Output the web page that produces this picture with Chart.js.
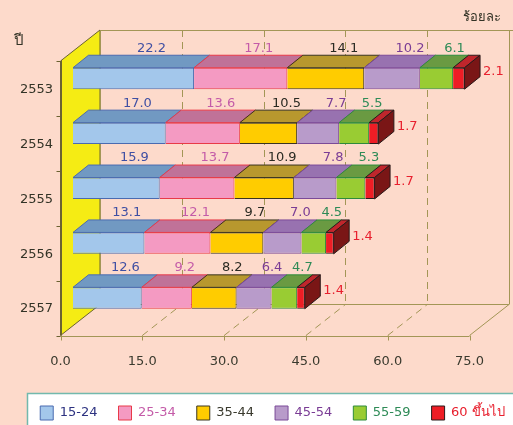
<!DOCTYPE html>
<html><head><meta charset="utf-8">
<script src="https://cdn.jsdelivr.net/npm/chart.js@4/dist/chart.umd.min.js"></script>
<style>html,body{margin:0;padding:0;background:#FDDACB;}canvas{display:block;}</style>
</head><body>
<canvas id="c" width="513" height="425"></canvas>
<script>
const years = ['2553', '2554', '2555', '2556', '2557'];
const ageGroups = ['15-24', '25-34', '35-44', '45-54', '55-59', '60 ขึ้นไป'];
const age15to24 = [22.2, 17.0, 15.9, 13.1, 12.6];
const age25to34 = [17.1, 13.6, 13.7, 12.1, 9.2];
const age35to44 = [14.1, 10.5, 10.9, 9.7, 8.2];
const age45to54 = [10.2, 7.7, 7.8, 7.0, 6.4];
const age55to59 = [6.1, 5.5, 5.3, 4.5, 4.7];
const age60plus = [2.1, 1.7, 1.7, 1.4, 1.4];
const xTickValues = [0, 15, 30, 45, 60, 75];
const unitLabel = 'ร้อยละ';
const yearLabel = 'ปี';

const seriesValues = [age15to24, age25to34, age35to44, age45to54, age55to59, age60plus];
const styles = [
  {front:'#A3C7EB', top:'#7199C2', border:'#4A6BB0', text:'#3F4FA3', legendText:'#2D3280'},
  {front:'#F49AC2', top:'#C07298', border:'#E83A48', text:'#C45BA8', legendText:'#C45BA8'},
  {front:'#FFCC00', top:'#B8982E', border:'#3A3420', text:'#2A2A22', legendText:'#3A3A2E'},
  {front:'#B89BCA', top:'#9872B0', border:'#7B4A98', text:'#7A3C95', legendText:'#7A3C95'},
  {front:'#99CC33', top:'#6A9A42', border:'#2E8B3C', text:'#2E8B57', legendText:'#2E8B57'},
  {front:'#EE1D25', top:'#C0262C', border:'#2A1A1A', text:'#E8202E', legendText:'#E8202E', side:'#7A1616'}
];
const FONT = '"DejaVu Sans", "Noto Sans", sans-serif';
const FRONT = {dx:-12.5, dy:10};
const BACK = {dx:27, dy:-21};
const DEPTH = {dx:15.5, dy:-12.5};
const GRID = '#A39656';
const WALL_EDGE = '#6B6232';

const threeD = {
  id: 'threeD',
  afterLayout(chart) {
    const lg = chart.legend;
    lg.left += 16; lg.right += 16;
  },
  beforeDraw(chart) {
    const ctx = chart.ctx, xs = chart.scales.x, ca = chart.chartArea;
    ctx.save();
    ctx.fillStyle = '#FDDACB';
    ctx.fillRect(0, 0, chart.width, chart.height);
    const lg = chart.legend;
    ctx.fillStyle = '#FFFFFF';
    ctx.strokeStyle = '#72B9AD';
    ctx.lineWidth = 1.5;
    ctx.fillRect(27, lg.top + 8, chart.width, 60);
    ctx.strokeRect(27.5, lg.top + 8.5, chart.width, 60);

    const topF = ca.top + FRONT.dy, botF = ca.bottom + FRONT.dy;
    const topB = ca.top + BACK.dy, botB = ca.bottom + BACK.dy;
    const xf = v => xs.getPixelForValue(v) + FRONT.dx;
    const xb = v => xs.getPixelForValue(v) + BACK.dx;
    const vmin = xTickValues[0], vmax = xTickValues[xTickValues.length - 1];

    ctx.strokeStyle = GRID; ctx.lineWidth = 1;
    ctx.setLineDash([7, 5]);
    xTickValues.slice(1, -1).forEach(v => {
      ctx.beginPath();
      ctx.moveTo(Math.round(xb(v)) + 0.5, topB); ctx.lineTo(Math.round(xb(v)) + 0.5, botB);
      ctx.moveTo(xf(v), botF); ctx.lineTo(xb(v), botB);
      ctx.stroke();
    });
    ctx.setLineDash([]);
    ctx.beginPath();
    ctx.moveTo(xb(vmin), Math.round(topB) + 0.5); ctx.lineTo(chart.width, Math.round(topB) + 0.5);
    ctx.moveTo(Math.round(xb(vmax)) + 0.5, topB); ctx.lineTo(Math.round(xb(vmax)) + 0.5, botB);
    ctx.moveTo(xb(vmin), botB); ctx.lineTo(xb(vmax), botB);
    ctx.lineTo(xf(vmax), botF);
    ctx.moveTo(xf(vmin), Math.round(botF) + 0.5); ctx.lineTo(xf(vmax), Math.round(botF) + 0.5);
    ctx.stroke();
    xTickValues.forEach(v => {
      ctx.beginPath();
      ctx.moveTo(Math.round(xf(v)) + 0.5, botF); ctx.lineTo(Math.round(xf(v)) + 0.5, botF + 5);
      ctx.stroke();
    });
    ctx.beginPath();
    ctx.moveTo(xf(vmin), topF); ctx.lineTo(xb(vmin), topB);
    ctx.lineTo(xb(vmin), botB); ctx.lineTo(xf(vmin), botF); ctx.closePath();
    ctx.fillStyle = '#F5EC14'; ctx.fill();
    ctx.strokeStyle = WALL_EDGE; ctx.stroke();
    ctx.beginPath();
    ctx.strokeStyle = GRID;
    ctx.moveTo(Math.round(xb(vmin)) + 0.5, topB); ctx.lineTo(Math.round(xb(vmin)) + 0.5, botB);
    ctx.stroke();
    ctx.strokeStyle = WALL_EDGE;
    const n = years.length;
    for (let i = 0; i <= n; i++) {
      const y = Math.round(ca.top + (ca.bottom - ca.top) * i / n + FRONT.dy) + 0.5;
      ctx.beginPath(); ctx.moveTo(xf(vmin) - 4, y); ctx.lineTo(xf(vmin), y); ctx.stroke();
    }
    ctx.beginPath();
    ctx.moveTo(Math.round(xf(vmin)) + 0.5, topF - 1); ctx.lineTo(Math.round(xf(vmin)) + 0.5, botF);
    ctx.stroke();

    ctx.fillStyle = '#333326';
    ctx.font = '13px ' + FONT;
    ctx.textAlign = 'right'; ctx.textBaseline = 'middle';
    ctx.fillText(unitLabel, 501, 18);
    ctx.font = '15px ' + FONT;
    ctx.textAlign = 'center';
    ctx.fillText(yearLabel, 19, 41);
    ctx.restore();
  },
  afterDatasetsDraw(chart) {
    const ctx = chart.ctx;
    ctx.save();
    ctx.lineWidth = 1;
    const last = chart.data.datasets.length - 1;
    chart.data.datasets.forEach((ds, di) => {
      const meta = chart.getDatasetMeta(di);
      const st = styles[di];
      meta.data.forEach(el => {
        const top = el.y - el.height / 2, bot = el.y + el.height / 2;
        const x0 = el.base, x1 = el.x;
        ctx.beginPath();
        ctx.moveTo(x0, top); ctx.lineTo(x0 + DEPTH.dx, top + DEPTH.dy);
        ctx.lineTo(x1 + DEPTH.dx, top + DEPTH.dy); ctx.lineTo(x1, top); ctx.closePath();
        ctx.fillStyle = st.top; ctx.fill();
        ctx.strokeStyle = st.border; ctx.stroke();
        if (di === last) {
          ctx.beginPath();
          ctx.moveTo(x1, top); ctx.lineTo(x1 + DEPTH.dx, top + DEPTH.dy);
          ctx.lineTo(x1 + DEPTH.dx, bot + DEPTH.dy); ctx.lineTo(x1, bot); ctx.closePath();
          ctx.fillStyle = st.side; ctx.fill();
          ctx.strokeStyle = st.border; ctx.stroke();
        }
      });
    });
    ctx.font = '13px ' + FONT;
    ctx.textBaseline = 'middle';
    chart.data.datasets.forEach((ds, di) => {
      const meta = chart.getDatasetMeta(di);
      ctx.fillStyle = styles[di].text;
      meta.data.forEach((el, i) => {
        const txt = ds.data[i].toFixed(1);
        if (di === last) {
          ctx.textAlign = 'left';
          ctx.fillText(txt, el.x + DEPTH.dx + 3, el.y - 7);
        } else {
          ctx.textAlign = 'center';
          ctx.fillText(txt, (el.x + el.base) / 2 + 18, el.y - el.height / 2 - 19.5);
        }
      });
    });
    ctx.restore();
  }
};

new Chart(document.getElementById('c'), {
  type: 'bar',
  data: {
    labels: years,
    datasets: seriesValues.map((vals, i) => ({
      label: ageGroups[i],
      data: vals,
      backgroundColor: styles[i].front,
      borderColor: styles[i].border,
      borderWidth: 1,
      barPercentage: 0.39,
      categoryPercentage: 1
    }))
  },
  options: {
    indexAxis: 'y',
    responsive: false,
    animation: false,
    devicePixelRatio: 1,
    layout: {padding: {top: 51, left: 0, right: 0, bottom: -5}},
    scales: {
      x: {
        stacked: true, min: 0, max: 75, position: 'bottom',
        grid: {display: false, drawTicks: false}, border: {display: false},
        afterBuildTicks: s => { s.ticks = xTickValues.map(v => ({value: v})); },
        afterFit: s => { s.height = 425 + 5 - s.chart.legend.height - 325.5; s.paddingLeft = 0; s.paddingRight = 0; },
        ticks: {callback: v => Number(v).toFixed(1), labelOffset: -12.5, padding: 28.7,
                font: {family: FONT, size: 13}, color: '#3A3A2E', maxRotation: 0, autoSkip: false}
      },
      y: {
        stacked: true, position: 'left',
        grid: {display: false, drawTicks: false}, border: {display: false},
        afterFit: s => { s.width = 73; },
        ticks: {padding: 20, labelOffset: 11, font: {family: FONT, size: 13}, color: '#333326'}
      },
      yR: {
        type: 'category', position: 'right', display: true,
        grid: {display: false, drawTicks: false}, border: {display: false},
        ticks: {display: false},
        afterFit: s => { s.width = 31; }
      }
    },
    plugins: {
      tooltip: {enabled: false},
      legend: {
        display: true, position: 'bottom',
        labels: {
          boxWidth: 13, boxHeight: 14, padding: 21,
          font: {family: FONT, size: 13},
          generateLabels: chart => chart.data.datasets.map((ds, i) => ({
            text: ds.label, fillStyle: styles[i].front, strokeStyle: styles[i].border,
            lineWidth: 1, fontColor: styles[i].legendText, hidden: false, datasetIndex: i
          }))
        }
      }
    }
  },
  plugins: [threeD]
});
</script>
</body></html>
